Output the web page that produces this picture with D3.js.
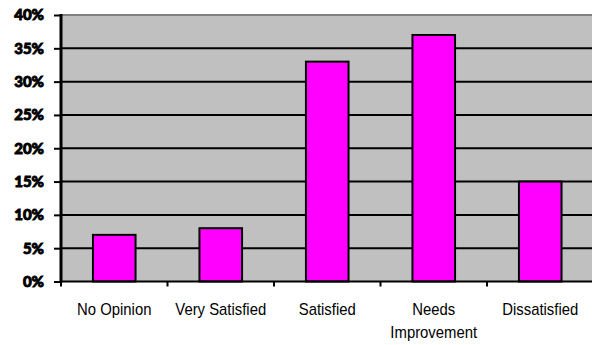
<!DOCTYPE html>
<html>
<head>
<meta charset="utf-8">
<script src="https://cdn.jsdelivr.net/npm/d3@7"></script>
<style>
  body { margin: 0; background: #fff; }
  svg { display: block; }
</style>
</head>
<body>
<div id="chart"></div>
<script>
// survey answers, percent of respondents
const categories = ['No Opinion', 'Very Satisfied', 'Satisfied', 'Needs Improvement', 'Dissatisfied'];
const values = [7, 8, 33, 37, 15];
const yTicks = [0, 5, 10, 15, 20, 25, 30, 35, 40];
// how each category label is broken into lines
const labelLines = [['No Opinion'], ['Very Satisfied'], ['Satisfied'], ['Needs', 'Improvement'], ['Dissatisfied']];

const width = 592;
const height = 345;
const plot = { left: 61, right: 593.5, top: 15, bottom: 281.5 };

const svg = d3.select('#chart')
  .append('svg')
  .attr('width', width)
  .attr('height', height);

const x = d3.scaleBand()
  .domain(categories)
  .range([plot.left, plot.right])
  .padding(0);

const y = d3.scaleLinear()
  .domain([0, 40])
  .range([plot.bottom, plot.top]);

// grey plot area
svg.append('rect')
  .attr('x', plot.left)
  .attr('y', plot.top)
  .attr('width', plot.right - plot.left)
  .attr('height', plot.bottom - plot.top)
  .attr('fill', '#c0c0c0');

// top border is grey
svg.append('line')
  .attr('x1', plot.left).attr('x2', plot.right)
  .attr('y1', y(40)).attr('y2', y(40))
  .attr('stroke', '#808080')
  .attr('stroke-width', 2);

// black gridlines
svg.append('g')
  .selectAll('line')
  .data(yTicks.filter(d => d > 0 && d < 40))
  .join('line')
  .attr('x1', plot.left).attr('x2', plot.right)
  .attr('y1', d => y(d)).attr('y2', d => y(d))
  .attr('stroke', '#000')
  .attr('stroke-width', 2);

// bars, 40% of each band
const barW = x.bandwidth() * 0.4;
svg.append('g')
  .selectAll('rect')
  .data(values)
  .join('rect')
  .attr('x', (d, i) => x(categories[i]) + (x.bandwidth() - barW) / 2)
  .attr('y', d => y(d))
  .attr('width', barW)
  .attr('height', d => y(0) - y(d))
  .attr('fill', '#ff00ff')
  .attr('stroke', '#000')
  .attr('stroke-width', 2);

// y axis: ticks and bold percent labels
const yAxis = svg.append('g')
  .attr('transform', `translate(${plot.left},0)`)
  .call(d3.axisLeft(y).tickValues(yTicks).tickSize(7).tickPadding(10).tickFormat(d => d + '%'));
yAxis.select('.domain').remove();
yAxis.selectAll('.tick line').attr('stroke', '#000').attr('stroke-width', 2);
yAxis.selectAll('.tick text')
  .attr('fill', '#000')
  .attr('stroke', '#000')
  .attr('stroke-width', 0.9)
  .attr('font-family', 'Lato, "DejaVu Sans", sans-serif')
  .attr('font-weight', 900)
  .attr('font-size', 15);
svg.append('line')
  .attr('x1', plot.left).attr('x2', plot.left)
  .attr('y1', plot.top - 1).attr('y2', plot.bottom + 1)
  .attr('stroke', '#000')
  .attr('stroke-width', 3);

// x axis line and ticks at band edges
svg.append('line')
  .attr('x1', plot.left).attr('x2', plot.right)
  .attr('y1', plot.bottom).attr('y2', plot.bottom)
  .attr('stroke', '#000')
  .attr('stroke-width', 2);
svg.append('g')
  .selectAll('line')
  .data(categories)
  .join('line')
  .attr('x1', d => x(d)).attr('x2', d => x(d))
  .attr('y1', plot.bottom).attr('y2', plot.bottom + 5)
  .attr('stroke', '#000')
  .attr('stroke-width', 2);

// category labels
const labels = svg.append('g')
  .selectAll('text')
  .data(categories)
  .join('text')
  .attr('transform', d => `translate(${x(d) + x.bandwidth() / 2},315) scale(0.93,1)`)
  .attr('text-anchor', 'middle')
  .style('font-family', '"Liberation Sans", Arial, sans-serif')
  .style('font-size', '16px')
  .attr('fill', '#000');
labels.selectAll('tspan')
  .data((d, i) => labelLines[i])
  .join('tspan')
  .attr('x', 0)
  .attr('y', (d, i) => i * 23)
  .text(d => d);
</script>
</body>
</html>
